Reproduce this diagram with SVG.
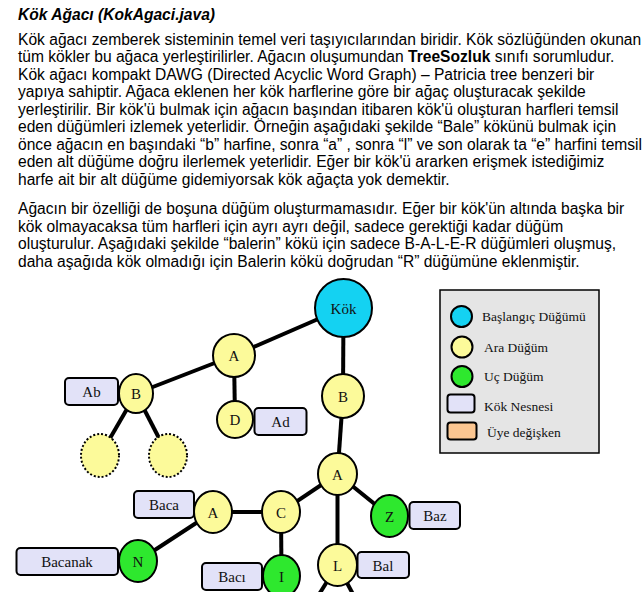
<svg xmlns="http://www.w3.org/2000/svg" width="642" height="592" viewBox="0 0 642 592">
<style>
.body{font-family:"Liberation Sans",Arial,sans-serif;font-size:15.6px;fill:#000}
.title{font-family:"Liberation Sans",Arial,sans-serif;font-size:15.6px;font-weight:bold;font-style:italic}
.lbl{font-family:"Liberation Serif","Times New Roman",serif;font-size:15px;text-anchor:middle;fill:#111}
.leg{font-family:"Liberation Serif","Times New Roman",serif;font-size:13.5px;fill:#111}
.root{fill:#14d2f2;stroke:#000;stroke-width:2}
.mid{fill:#fcfa9a;stroke:#000;stroke-width:2}
.leaf{fill:#2ee82e;stroke:#000;stroke-width:2}
.dot{fill:#fcfa9a;stroke:#000;stroke-width:2;stroke-dasharray:2 2}
.obj{fill:#e2e2f8;stroke:#000;stroke-width:2}
.mem{fill:#fbc691;stroke:#000;stroke-width:2}
.edge{stroke:#000;stroke-width:4;fill:none}
</style>
<rect width="642" height="592" fill="#fff"/>
<g id="text">
<text class="title" x="18" y="20">Kök Ağacı (KokAgaci.java)</text>
<text class="body" x="18" y="44.5">Kök ağacı zemberek sisteminin temel veri taşıyıcılarından biridir. Kök sözlüğünden okunan</text>
<text class="body" x="18" y="62">tüm kökler bu ağaca yerleştirilirler. Ağacın oluşumundan <tspan font-weight="bold">TreeSozluk</tspan> sınıfı sorumludur.</text>
<text class="body" x="18" y="79.5">Kök ağacı kompakt DAWG (Directed Acyclic Word Graph) – Patricia tree benzeri bir</text>
<text class="body" x="18" y="97">yapıya sahiptir. Ağaca eklenen her kök harflerine göre bir ağaç oluşturacak şekilde</text>
<text class="body" x="18" y="114.5">yerleştirilir. Bir kök'ü bulmak için ağacın başından itibaren kök'ü oluşturan harfleri temsil</text>
<text class="body" x="18" y="132">eden düğümleri izlemek yeterlidir. Örneğin aşağıdaki şekilde “Bale” kökünü bulmak için</text>
<text class="body" x="18" y="149.5">önce ağacın en başındaki “b” harfine, sonra “a” , sonra “l” ve son olarak ta “e” harfini temsil</text>
<text class="body" x="18" y="167">eden alt düğüme doğru ilerlemek yeterlidir. Eğer bir kök'ü ararken erişmek istediğimiz</text>
<text class="body" x="18" y="184.5">harfe ait bir alt düğüme gidemiyorsak kök ağaçta yok demektir.</text>
<text class="body" x="18" y="214">Ağacın bir özelliği de boşuna düğüm oluşturmamasıdır. Eğer bir kök'ün altında başka bir</text>
<text class="body" x="18" y="231.5">kök olmayacaksa tüm harfleri için ayrı ayrı değil, sadece gerektiği kadar düğüm</text>
<text class="body" x="18" y="249">oluşturulur. Aşağıdaki şekilde “balerin” kökü için sadece B-A-L-E-R düğümleri oluşmuş,</text>
<text class="body" x="18" y="266.5">daha aşağıda kök olmadığı için Balerin kökü doğrudan “R” düğümüne eklenmiştir.</text>
</g>
<g id="connectors">
<line class="edge" x1="343.5" y1="308" x2="234" y2="355.5"/>
<line class="edge" x1="234" y1="355.5" x2="136" y2="393.5"/>
<line class="edge" x1="234" y1="355.5" x2="235" y2="419.5"/>
<line class="edge" x1="136" y1="393.5" x2="100" y2="455.5"/>
<line class="edge" x1="136" y1="393.5" x2="168" y2="455.5"/>
<line class="edge" x1="343.5" y1="308" x2="343" y2="396"/>
<line class="edge" x1="343" y1="396" x2="337.5" y2="474"/>
<line class="edge" x1="337.5" y1="474" x2="281" y2="512"/>
<line class="edge" x1="337.5" y1="474" x2="389.5" y2="516"/>
<line class="edge" x1="337.5" y1="474" x2="337.5" y2="565"/>
<line class="edge" x1="281" y1="512" x2="213" y2="512"/>
<line class="edge" x1="281" y1="512" x2="281.5" y2="576"/>
<line class="edge" x1="213" y1="512" x2="138" y2="561"/>
<line class="edge" x1="337.5" y1="565" x2="318" y2="596"/>
<line class="edge" x1="337.5" y1="565" x2="354" y2="596"/>
</g>
<g id="node-kok"><ellipse class="root" cx="343.5" cy="308" rx="28.5" ry="29"/><text class="lbl" x="343.5" y="313.5" font-size="16">Kök</text></g>
<g id="node-a1"><ellipse class="mid" cx="234" cy="355.5" rx="21" ry="21.5"/><text class="lbl" x="234" y="361">A</text></g>
<g id="node-b1"><ellipse class="mid" cx="136" cy="393.5" rx="17" ry="19.5"/><text class="lbl" x="136" y="399">B</text></g>
<g id="obj-ab"><rect class="obj" x="65" y="378" width="53" height="27" rx="4"/><text class="lbl" x="91.5" y="397">Ab</text></g>
<g id="node-d"><ellipse class="mid" cx="235" cy="419.5" rx="18" ry="18.5"/><text class="lbl" x="235" y="425">D</text></g>
<g id="obj-ad"><rect class="obj" x="254.5" y="408" width="52" height="27" rx="4"/><text class="lbl" x="280.5" y="427">Ad</text></g>
<g id="node-dot1"><ellipse class="dot" cx="100" cy="455.5" rx="19" ry="21.5"/></g>
<g id="node-dot2"><ellipse class="dot" cx="168" cy="455.5" rx="19" ry="21.5"/></g>
<g id="node-b2"><ellipse class="mid" cx="343" cy="396" rx="21" ry="22"/><text class="lbl" x="343" y="401.5">B</text></g>
<g id="node-a2"><ellipse class="mid" cx="337.5" cy="474" rx="19.5" ry="21"/><text class="lbl" x="337.5" y="479.5">A</text></g>
<g id="obj-baca"><rect class="obj" x="134" y="491" width="60" height="27" rx="4"/><text class="lbl" x="164" y="510">Baca</text></g>
<g id="node-a3"><ellipse class="mid" cx="213" cy="512" rx="19" ry="21"/><text class="lbl" x="213" y="517.5">A</text></g>
<g id="node-c"><ellipse class="mid" cx="281" cy="512" rx="19" ry="21"/><text class="lbl" x="281" y="517.5">C</text></g>
<g id="node-z"><ellipse class="leaf" cx="389.5" cy="516" rx="18.5" ry="21"/><text class="lbl" x="389.5" y="521.5">Z</text></g>
<g id="obj-baz"><rect class="obj" x="409.5" y="502" width="50.5" height="27" rx="4"/><text class="lbl" x="435" y="521">Baz</text></g>
<g id="node-n"><ellipse class="leaf" cx="138" cy="561" rx="19" ry="21"/><text class="lbl" x="138" y="566.5">N</text></g>
<g id="obj-bacanak"><rect class="obj" x="16.5" y="548" width="101.5" height="27" rx="4"/><text class="lbl" x="67" y="567">Bacanak</text></g>
<g id="node-i"><ellipse class="leaf" cx="281.5" cy="576" rx="18.5" ry="21"/><text class="lbl" x="281.5" y="581.5">I</text></g>
<g id="obj-baci"><rect class="obj" x="202" y="563" width="60" height="27" rx="4"/><text class="lbl" x="232" y="582">Bacı</text></g>
<g id="node-l"><ellipse class="mid" cx="337.5" cy="565" rx="19.5" ry="21"/><text class="lbl" x="337.5" y="570.5">L</text></g>
<g id="obj-bal"><rect class="obj" x="357.5" y="552" width="51.5" height="26" rx="4"/><text class="lbl" x="383" y="570.5">Bal</text></g>
<g id="legend">
<rect x="440" y="290" width="159" height="163" fill="#e5e5e5" stroke="#000" stroke-width="1.5"/>
<ellipse class="root" cx="461.5" cy="316.5" rx="10.5" ry="10.5"/>
<text class="leg" x="482" y="320.5">Başlangıç Düğümü</text>
<ellipse class="mid" cx="462" cy="347" rx="10.5" ry="10.5"/>
<text class="leg" x="484" y="351.5">Ara Düğüm</text>
<ellipse class="leaf" cx="462" cy="376.5" rx="10.5" ry="10.5"/>
<text class="leg" x="484" y="381">Uç Düğüm</text>
<rect class="obj" x="447.5" y="394.5" width="27" height="18" rx="3"/>
<text class="leg" x="484" y="411">Kök Nesnesi</text>
<rect class="mem" x="447.5" y="422.5" width="29" height="17" rx="3"/>
<text class="leg" x="487" y="436.5">Üye değişken</text>
</g>
</svg>
